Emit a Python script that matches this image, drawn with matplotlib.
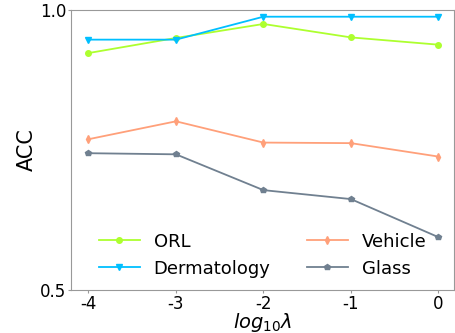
import numpy as np
import matplotlib
matplotlib.use("Agg")
import matplotlib.pyplot as plt

lams = [-4, -3, -2, -1, 0]
orl = [0.923, 0.950, 0.975, 0.951, 0.938]
derm = [0.947, 0.947, 0.988, 0.988, 0.988]
vehicle = [0.769, 0.801, 0.763, 0.762, 0.738]
glass = [0.744, 0.742, 0.678, 0.662, 0.594]

fig = plt.figure(figsize=(4.55, 3.33), dpi=100)
ax = fig.add_axes([0.156, 0.130, 0.842, 0.840])

ax.plot(lams, orl, color="greenyellow", marker="o", markersize=4, lw=1.3, label="ORL")
ax.plot(lams, derm, color="deepskyblue", marker="v", markersize=4, lw=1.3, label="Dermatology")
ax.plot(lams, vehicle, color="lightsalmon", marker="d", markersize=4, lw=1.3, label="Vehicle")
ax.plot(lams, glass, color="slategray", marker="p", markersize=4, lw=1.3, label="Glass")

ax.set_xlim(-4.2, 0.18)
ax.set_ylim(0.5, 1.0)
ax.set_xticks(lams)
ax.set_xticklabels(["-4", "-3", "-2", "-1", "0"])
ax.set_yticks([0.5, 1.0])
ax.tick_params(labelsize=12, colors="#999999", labelcolor="black", length=2, pad=1.5)
for s in ax.spines.values():
    s.set_color("#999999")

ax.set_ylabel("ACC", fontsize=15, labelpad=2)
ax.set_xlabel(r"$log_{10}\lambda$", fontsize=14, labelpad=-1)

ax.legend(ncol=2, frameon=False, fontsize=13, loc="lower center",
          bbox_to_anchor=(0.5, -0.015), columnspacing=2.0, handlelength=2.3,
          handletextpad=0.75)

fig.savefig("out.png")
